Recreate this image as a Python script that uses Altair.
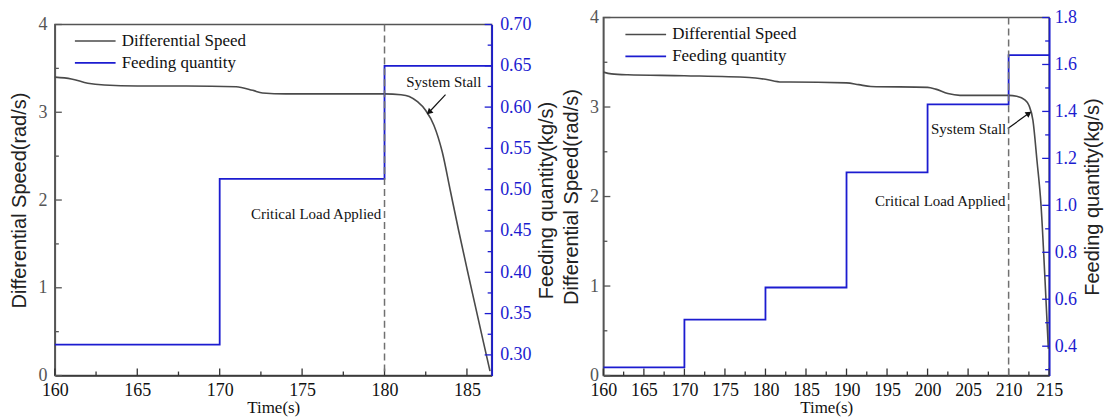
import altair as alt
import pandas as pd

# ---------------- data ----------------
# Left panel
L_time = [160, 161, 162, 163, 165, 168, 171, 172, 172.6, 174, 177, 180, 181, 181.5, 182, 182.5, 183, 183.5, 184, 184.5, 185, 185.5, 186, 186.4]
L_speed = [3.40, 3.38, 3.33, 3.31, 3.30, 3.30, 3.29, 3.25, 3.22, 3.21, 3.21, 3.21, 3.20, 3.18, 3.12, 3.02, 2.85, 2.55, 2.10, 1.65, 1.22, 0.80, 0.38, 0.05]
L_feed_time = [160, 170, 180, 186.5]
L_feed = [0.3125, 0.513, 0.65, 0.65]

# Right panel
R_time = [160, 161, 163, 170, 178, 180, 182, 183, 190, 191.5, 193, 200, 201, 202.5, 204, 210, 211, 212, 212.5, 213, 213.5, 214, 214.5, 214.9]
R_speed = [3.39, 3.37, 3.36, 3.35, 3.33, 3.31, 3.28, 3.28, 3.27, 3.25, 3.23, 3.22, 3.20, 3.15, 3.13, 3.13, 3.12, 3.08, 3.02, 2.85, 2.40, 1.90, 1.05, 0.30]
R_feed_time = [160, 170, 180, 190, 200, 210, 215]
R_feed = [0.31, 0.513, 0.65, 1.14, 1.43, 1.64, 1.64]

SERIES = ["Differential Speed", "Feeding quantity"]

# ticks
L_x_major = [160, 165, 170, 175, 180, 185]
L_x_minor = [162.5, 167.5, 172.5, 177.5, 182.5]
R_x_major = [160, 165, 170, 175, 180, 185, 190, 195, 200, 205, 210, 215]
R_x_minor = [162.5, 167.5, 172.5, 177.5, 182.5, 187.5, 192.5, 197.5, 202.5, 207.5, 212.5]
S_major = [0, 1, 2, 3, 4]
S_minor = [0.5, 1.5, 2.5, 3.5]
L_f_major = [0.30, 0.35, 0.40, 0.45, 0.50, 0.55, 0.60, 0.65, 0.70]
L_f_minor = [0.325, 0.375, 0.425, 0.475, 0.525, 0.575, 0.625, 0.675]
R_f_major = [0.4, 0.6, 0.8, 1.0, 1.2, 1.4, 1.6, 1.8]
R_f_minor = [0.3, 0.5, 0.7, 0.9, 1.1, 1.3, 1.5, 1.7]

# annotations
L_event = [180]
R_event = [210]
L_crit = {"t": [179.8], "s": [1.84]}
R_crit = {"t": [209.6], "s": [1.95]}
L_stall = {"t": [183.6], "s": [3.34]}
R_stall = {"t": [209.7], "s": [2.75]}
L_arrow = {"t": [183.7, 182.7], "s": [3.20, 3.00]}
R_arrow = {"t": [209.9, 212.5], "s": [2.76, 2.93]}
L_arrow_angle = 227
R_arrow_angle = 55

BLUE = "#1c1cd0"
GRAY = "#4a4a4a"
SERIF = "Liberation Serif"
SANS = "Liberation Sans"


def panel(W, H, xdom, xmaj, xmin, s_t, s_v, f_t, f_v, fdom, fmaj, fmin, ffmt,
          event, crit, stall, arrow, angle, y_lab_pad, lx, ly, stall_align):
    xscale = alt.Scale(domain=xdom, nice=False, zero=False)
    sscale = alt.Scale(domain=[0, 4], nice=False, zero=False)
    fscale = alt.Scale(domain=fdom, nice=False, zero=False)
    cscale = alt.Scale(domain=SERIES, range=[GRAY, BLUE])
    legend = alt.Legend(orient="none", legendX=lx, legendY=ly, title=None,
                        symbolType="M-2.4,0H2.4", symbolSize=289, symbolStrokeWidth=1.6,
                        labelFont=SERIF, labelFontSize=17, labelColor="#111",
                        rowPadding=4, labelOffset=17, padding=0)

    xaxis = alt.Axis(title="Time(s)", values=xmaj, ticks=False, grid=False,
                     domainColor="#333", domainWidth=1.5, labelColor="#111",
                     labelFont=SERIF, labelFontSize=18, labelPadding=6,
                     labelFlush=False, labelOverlap=False,
                     titleFont=SERIF, titleFontSize=17, titleFontWeight="normal",
                     titleColor="#111", titlePadding=0)
    saxis = alt.Axis(title="Differential Speed(rad/s)", values=S_major, ticks=False, grid=False,
                     domainColor="#555", domainWidth=1.5, labelColor="#555",
                     labelFont=SERIF, labelFontSize=18, labelPadding=y_lab_pad,
                     titleFont=SANS, titleFontSize=20, titleFontWeight="normal",
                     titleColor="#222", titlePadding=8)
    faxis = alt.Axis(orient="right", title="Feeding quantity(kg/s)", values=fmaj, format=ffmt,
                     ticks=False, grid=False, domainColor=BLUE, domainWidth=1.8,
                     labelColor=BLUE, labelFont=SERIF, labelFontSize=18, labelPadding=y_lab_pad,
                     titleFont=SANS, titleFontSize=20, titleFontWeight="normal",
                     titleColor="#222", titlePadding=6, titleAngle=270, titleBaseline="top")

    X = lambda f: alt.X(f, scale=xscale, axis=xaxis)
    S = lambda f: alt.Y(f, scale=sscale, axis=saxis)
    F = lambda f: alt.Y(f, scale=fscale, axis=faxis)

    sdf = pd.DataFrame({"t": s_t, "v": s_v, "series": SERIES[0]})
    fdf = pd.DataFrame({"t": f_t, "v": f_v, "series": SERIES[1]})

    speed_line = alt.Chart(sdf).mark_line(strokeWidth=1.6, interpolate="monotone").encode(
        x=X("t:Q"), y=S("v:Q"),
        color=alt.Color("series:N", scale=cscale, legend=legend),
    )

    xt_major = alt.Chart(pd.DataFrame({"t": xmaj})).mark_rule(color="#333", strokeWidth=1.3).encode(
        x=X("t:Q"), y=alt.value(H), y2=alt.value(H - 7))
    xt_minor = alt.Chart(pd.DataFrame({"t": xmin})).mark_rule(color="#333", strokeWidth=1.3).encode(
        x=X("t:Q"), y=alt.value(H), y2=alt.value(H - 4))
    st_major = alt.Chart(pd.DataFrame({"v": S_major})).mark_rule(color="#555", strokeWidth=1.3).encode(
        y=S("v:Q"), x=alt.value(0), x2=alt.value(7))
    st_minor = alt.Chart(pd.DataFrame({"v": S_minor})).mark_rule(color="#555", strokeWidth=1.3).encode(
        y=S("v:Q"), x=alt.value(0), x2=alt.value(4))

    crit_txt = alt.Chart(pd.DataFrame(crit)).mark_text(
        text="Critical Load Applied", align="right", baseline="middle",
        font=SERIF, fontSize=15, color="#111").encode(x=X("t:Q"), y=S("s:Q"))
    stall_txt = alt.Chart(pd.DataFrame(stall)).mark_text(
        text="System Stall", align=stall_align, baseline="middle",
        font=SERIF, fontSize=15, color="#111").encode(x=X("t:Q"), y=S("s:Q"))
    arrow_line = alt.Chart(pd.DataFrame(arrow)).mark_line(color="#111", strokeWidth=1.2).encode(
        x=X("t:Q"), y=S("s:Q"))
    adf = pd.DataFrame({"t": arrow["t"][1:], "s": arrow["s"][1:]})
    arrow_head = alt.Chart(adf).mark_point(shape="triangle-up", filled=True, size=45,
                                           angle=angle, color="#111", opacity=1).encode(
        x=X("t:Q"), y=S("s:Q"))

    speed_layer = alt.layer(speed_line, xt_major, xt_minor, st_major, st_minor,
                            crit_txt, stall_txt, arrow_line, arrow_head)

    feed_line = alt.Chart(fdf).mark_line(strokeWidth=1.8, interpolate="step-after").encode(
        x=X("t:Q"), y=F("v:Q"),
        color=alt.Color("series:N", scale=cscale, legend=legend),
    )
    ft_major = alt.Chart(pd.DataFrame({"v": fmaj})).mark_rule(color=BLUE, strokeWidth=1.3).encode(
        y=F("v:Q"), x=alt.value(W), x2=alt.value(W - 7))
    ft_minor = alt.Chart(pd.DataFrame({"v": fmin})).mark_rule(color=BLUE, strokeWidth=1.3).encode(
        y=F("v:Q"), x=alt.value(W), x2=alt.value(W - 4))
    feed_layer = alt.layer(feed_line, ft_major, ft_minor)

    vrule = alt.Chart(pd.DataFrame({"t": event})).mark_rule(
        color="#707070", strokeWidth=1.5, strokeDash=[7, 4]).encode(x=X("t:Q"))

    return alt.layer(speed_layer, feed_layer, vrule).resolve_scale(y="independent").properties(
        width=W, height=H)


left = panel(438, 352, [160, 186.5], L_x_major, L_x_minor, L_time, L_speed,
             L_feed_time, L_feed, [0.275, 0.70], L_f_major, L_f_minor, ".2f",
             L_event, L_crit, L_stall, L_arrow, L_arrow_angle, 8, 31, 14, "center")
right = panel(447, 359, [160, 215], R_x_major, R_x_minor, R_time, R_speed,
              R_feed_time, R_feed, [0.275, 1.8], R_f_major, R_f_minor, ".1f",
              R_event, R_crit, R_stall, R_arrow, R_arrow_angle, 5, 33, 7.5, "right")

# invisible spacer that lowers the left panel a little (its plot top sits lower in the reference)
spacer = alt.Chart(pd.DataFrame({"a": [0]})).mark_point(opacity=0).encode(
    x=alt.X("a:Q", axis=None), y=alt.Y("a:Q", axis=None)
).properties(width=1, height=7, view=alt.ViewBackground(stroke="transparent"))

left_col = alt.vconcat(spacer, left, spacing=0, bounds="flush")

chart = alt.hconcat(left_col, right, spacing=2).resolve_scale(color="independent").resolve_legend(
    color="independent").properties(
    padding={"left": 9, "top": 7, "right": 0, "bottom": 0}, background="white"
).configure_view(stroke="#555", strokeWidth=1.5)

chart.save("out.html", embed_options={"renderer": "svg", "actions": False})
